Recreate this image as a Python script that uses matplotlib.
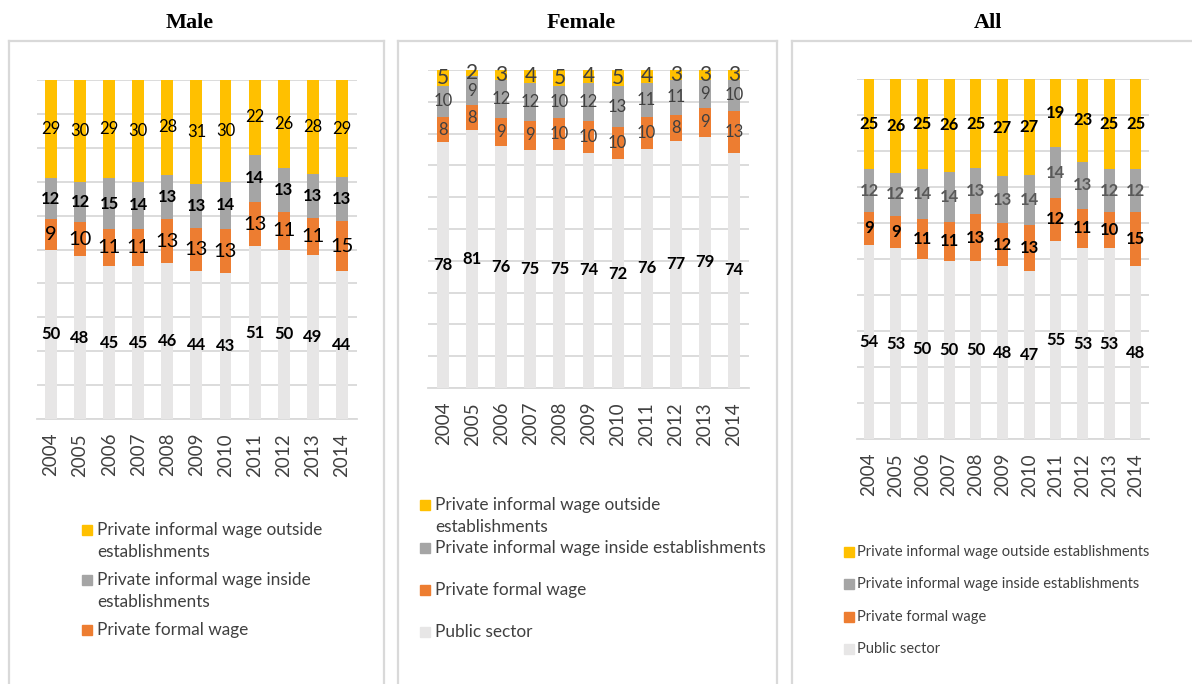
import matplotlib
matplotlib.use("Agg")
import matplotlib.pyplot as plt
from matplotlib.patches import Rectangle
import numpy as np

years = ["2004", "2005", "2006", "2007", "2008", "2009", "2010", "2011", "2012", "2013", "2014"]
series_names = ["Private informal wage outside establishments",
                "Private informal wage inside establishments",
                "Private formal wage",
                "Public sector"]

male_public = [50, 48, 45, 45, 46, 44, 43, 51, 50, 49, 44]
male_formal = [9, 10, 11, 11, 13, 13, 13, 13, 11, 11, 15]
male_inside = [12, 12, 15, 14, 13, 13, 14, 14, 13, 13, 13]
male_outside = [29, 30, 29, 30, 28, 31, 30, 22, 26, 28, 29]

female_public = [78, 81, 76, 75, 75, 74, 72, 76, 77, 79, 74]
female_formal = [8, 8, 9, 9, 10, 10, 10, 10, 8, 9, 13]
female_inside = [10, 9, 12, 12, 10, 12, 13, 11, 11, 9, 10]
female_outside = [5, 2, 3, 4, 5, 4, 5, 4, 3, 3, 3]

all_public = [54, 53, 50, 50, 50, 48, 47, 55, 53, 53, 48]
all_formal = [9, 9, 11, 11, 13, 12, 13, 12, 11, 10, 15]
all_inside = [12, 12, 14, 14, 13, 13, 14, 14, 13, 12, 12]
all_outside = [25, 26, 25, 26, 25, 27, 27, 19, 23, 25, 25]

C_OUT = "#FFC000"
C_IN = "#A5A5A5"
C_FORMAL = "#ED7D31"
C_PUBLIC = "#E7E6E6"
GRID = "#D9D9D9"

FONT = "Lato"
W, H = 1192, 684
fig = plt.figure(figsize=(W / 100, H / 100), dpi=100)


def fx(px):
    return px / W


def fy(py):
    return 1 - py / H


def panel_box(x0, x1, y0, right=True):
    ax_bg = fig.add_axes([0, 0, 1, 1], zorder=-5)
    ax_bg.set_xlim(0, W)
    ax_bg.set_ylim(H, 0)
    ax_bg.axis("off")
    ax_bg.plot([x0, x0], [y0, H + 5], color=GRID, lw=1.6)
    ax_bg.plot([x0, x1], [y0, y0], color=GRID, lw=1.6)
    if right:
        ax_bg.plot([x1, x1], [y0, H + 5], color=GRID, lw=1.6)


def panel(title, title_x, rect_px, xlim, public, formal, inside, outside, styles,
          legend_spec):
    x0, y0, x1, y1 = rect_px
    ax = fig.add_axes([fx(x0), fy(y1), fx(x1 - x0), (y1 - y0) / H])
    x = np.arange(len(years))
    layers = [public, formal, inside, outside]
    colors = [C_PUBLIC, C_FORMAL, C_IN, C_OUT]
    totals = np.sum(np.array(layers, dtype=float), axis=0)
    bottom = np.zeros(len(years))
    for vals, col, st in zip(layers, colors, styles):
        v = np.array(vals, dtype=float)
        h = v / totals * 100
        ax.bar(x, h, bottom=bottom, width=0.41, color=col, zorder=3)
        for i in range(len(years)):
            ax.text(x[i], bottom[i] + h[i] / 2, str(vals[i]), ha="center",
                    va="center", fontsize=st[0], fontweight=st[1], color=st[2],
                    family=FONT, zorder=4)
        bottom += h
    ax.set_ylim(0, 100)
    ax.set_xlim(*xlim)
    ax.set_yticks(np.arange(0, 101, 10))
    ax.yaxis.grid(True, color=GRID, lw=1.3, zorder=0)
    ax.set_axisbelow(True)
    for s in ["top", "right", "left"]:
        ax.spines[s].set_visible(False)
    ax.spines["bottom"].set_color(GRID)
    ax.spines["bottom"].set_linewidth(1.3)
    ax.tick_params(axis="y", left=False, labelleft=False)
    ax.tick_params(axis="x", length=0, pad=10)
    ax.set_xticks(x)
    ax.set_xticklabels(years, rotation=90, fontsize=13.5, family=FONT,
                       color="#404040")
    fig.text(fx(title_x), fy(23), title, ha="center", va="center",
             fontsize=16, fontweight="bold", family="Liberation Serif")

    # legend entries
    sq_x, txt_x, fs, entries = legend_spec
    for label, col, ypos in entries:
        first_y = ypos[0]
        fig.patches.append(Rectangle((fx(sq_x), fy(first_y + 5)), 10 / W, 10 / H,
                                     transform=fig.transFigure, color=col,
                                     zorder=5))
        for line, yy in zip(label, ypos):
            fig.text(fx(txt_x), fy(yy), line, ha="left", va="center",
                     fontsize=fs, family=FONT, color="#404040")


# panel frames
panel_box(9, 384, 41)
panel_box(398, 777, 41)
panel_box(792, 1250, 41, right=False)

male_styles = [(12, "bold", "black"), (14.5, "normal", "black"),
               (12, "bold", "black"), (12, "normal", "black")]
panel("Male", 190, (37, 80, 357, 419), (-0.48, 10.52),
      male_public, male_formal, male_inside, male_outside, male_styles,
      (82, 97, 12.4, [
          (["Private informal wage outside", "establishments"], C_OUT, [530, 552]),
          (["Private informal wage inside", "establishments"], C_IN, [580, 602]),
          (["Private formal wage"], C_FORMAL, [630]),
      ]))

female_styles = [(12, "bold", "black"), (12, "normal", "#404040"),
                 (12, "normal", "#404040"), (15, "normal", "#404040")]
panel("Female", 581, (428, 70, 749, 388), (-0.52, 10.52),
      female_public, female_formal, female_inside, female_outside, female_styles,
      (420, 435, 12.4, [
          (["Private informal wage outside", "establishments"], C_OUT, [505, 527]),
          (["Private informal wage inside establishments"], C_IN, [548]),
          (["Private formal wage"], C_FORMAL, [590]),
          (["Public sector"], C_PUBLIC, [632]),
      ]))

all_styles = [(12, "bold", "black"), (12, "bold", "black"),
              (12, "bold", "#595959"), (12, "bold", "black")]
panel("All", 988, (857, 79, 1149, 439), (-0.45, 10.49),
      all_public, all_formal, all_inside, all_outside, all_styles,
      (844, 857, 10.5, [
          (["Private informal wage outside establishments"], C_OUT, [552]),
          (["Private informal wage inside establishments"], C_IN, [584]),
          (["Private formal wage"], C_FORMAL, [617]),
          (["Public sector"], C_PUBLIC, [649]),
      ]))

fig.savefig("out.png", dpi=100)
